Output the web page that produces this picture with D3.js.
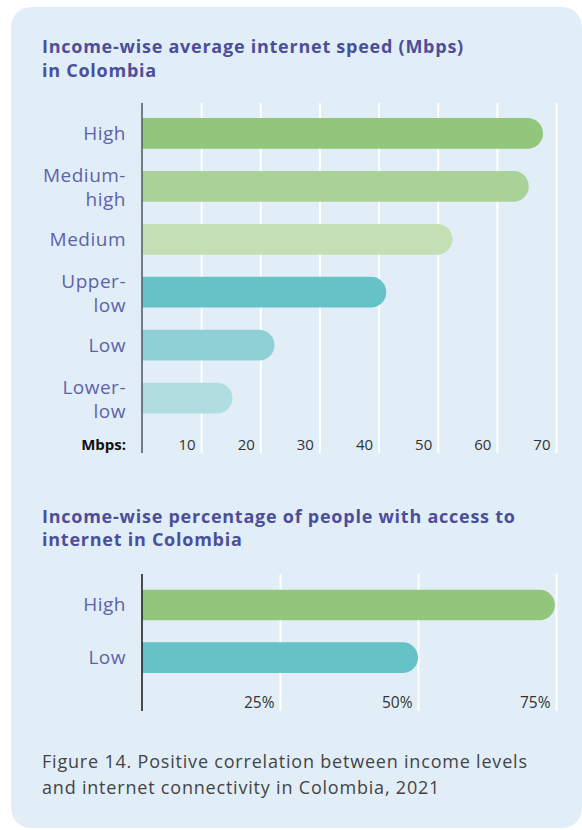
<!DOCTYPE html>
<html>
<head>
<meta charset="utf-8">
<script src="https://cdn.jsdelivr.net/npm/d3@7"></script>
<style>
  html, body { margin: 0; padding: 0; background: #ffffff; }
  svg { display: block; }
</style>
</head>
<body>
<svg id="chart" width="582" height="830"></svg>
<script>
// ---- Data ----
const speedTitle = ["Income-wise average internet speed (Mbps)", "in Colombia"];
const speedCategories = ["High", "Medium-high", "Medium", "Upper-low", "Low", "Lower-low"];
const speedValues = [67.8, 65.4, 52.5, 41.3, 22.4, 15.3];
const speedTicks = [10, 20, 30, 40, 50, 60, 70];
const speedAxisLabel = "Mbps:";

const accessTitle = ["Income-wise percentage of people with access to", "internet in Colombia"];
const accessCategories = ["High", "Low"];
const accessValues = [74.8, 50.0];
const accessTicks = [25, 50, 75];

const caption = ["Figure 14. Positive correlation between income levels",
                 "and internet connectivity in Colombia, 2021"];

const speedColors = ["#92c67b", "#aad298", "#c4dfb4", "#65c2c6", "#8ed0d4", "#b0dde0"];
const accessColors = ["#92c67b", "#65c2c6"];

// ---- Styles ----
const FONT = "'Open Sans', Lato, sans-serif";
const titleColor = "#4d4e99";
const labelColor = "#6062a9";

const svg = d3.select("#chart");

svg.append("rect")
  .attr("x", 11).attr("y", 7)
  .attr("width", 571).attr("height", 821)
  .attr("rx", 20).attr("ry", 20)
  .attr("fill", "#e1eef8");

function title(lines, x, y0, lh) {
  const t = svg.append("text")
    .attr("font-family", FONT)
    .attr("font-weight", 700)
    .attr("font-size", 18)
    .attr("letter-spacing", 0.75)
    .attr("fill", titleColor);
  lines.forEach((l, i) => t.append("tspan").attr("x", x).attr("y", y0 + i * lh).text(l));
}

function barPath(x0, x1, y, h) {
  const r = h / 2;
  const xe = Math.max(x0, x1 - r);
  return `M${x0},${y}H${xe}A${r},${r} 0 0 1 ${xe},${y + h}H${x0}Z`;
}

function drawChart(opts) {
  const { cats, vals, colors, ticks, domainMax, xRange, yRange, gridTop, gridBottom,
          labelBaseline, axisColor, tickFont } = opts;
  const x = d3.scaleLinear().domain([0, domainMax]).range(xRange);
  const y = d3.scaleBand().domain(cats).range(yRange).paddingInner(0.42).paddingOuter(0.21);

  const gAxis = svg.append("g")
    .attr("transform", `translate(0,${gridBottom})`)
    .call(d3.axisBottom(x).tickValues(ticks).tickSize(-(gridBottom - gridTop)).tickFormat(opts.fmt));
  gAxis.select(".domain").remove();
  gAxis.selectAll(".tick line").attr("stroke", "#ffffff").attr("stroke-width", 2);
  gAxis.selectAll(".tick text")
    .attr("x", -6).attr("y", labelBaseline - gridBottom).attr("dy", 0)
    .attr("text-anchor", "end")
    .attr("font-family", FONT)
    .attr("font-size", tickFont)
    .attr("fill", "#333333");

  svg.append("g").selectAll("path")
    .data(cats.map((c, i) => ({ c, v: vals[i], col: colors[i] })))
    .join("path")
    .attr("d", d => barPath(x(0), x(d.v), y(d.c), y.bandwidth()))
    .attr("fill", d => d.col);

  svg.append("line")
    .attr("x1", x(0)).attr("x2", x(0))
    .attr("y1", gridTop).attr("y2", gridBottom)
    .attr("stroke", axisColor).attr("stroke-width", 1.6);

  const gy = svg.append("g")
    .attr("transform", `translate(${x(0)},0)`)
    .call(d3.axisLeft(y).tickSize(0).tickPadding(16));
  gy.select(".domain").remove();
  gy.selectAll(".tick text").each(function (d) {
    const t = d3.select(this);
    t.text(null)
      .attr("font-family", FONT)
      .attr("font-size", 19)
      .attr("letter-spacing", 0.5)
      .attr("fill", labelColor)
      .attr("text-anchor", "end")
      .attr("dy", 0).attr("y", 0);
    const idx = d.indexOf("-");
    if (idx >= 0) {
      t.append("tspan").attr("x", -16).attr("y", -4).text(d.slice(0, idx + 1));
      t.append("tspan").attr("x", -16).attr("y", 20).text(d.slice(idx + 1));
    } else {
      t.append("tspan").attr("x", -16).attr("y", 6.5).text(d);
    }
  });
  return x;
}

// ---- Top chart ----
title(speedTitle, 42, 53, 23.5);
drawChart({
  cats: speedCategories, vals: speedValues, colors: speedColors, ticks: speedTicks,
  domainMax: 70, xRange: [142, 556], yRange: [107, 424.5],
  gridTop: 103, gridBottom: 453, labelBaseline: 450, axisColor: "#5a5f66",
  tickFont: 15, fmt: d3.format("d")
});
svg.append("text")
  .attr("x", 126).attr("y", 450)
  .attr("text-anchor", "end")
  .attr("font-family", FONT).attr("font-weight", 700)
  .attr("font-size", 15).attr("fill", "#111111")
  .text(speedAxisLabel);

// ---- Bottom chart ----
title(accessTitle, 42, 522.5, 23);
drawChart({
  cats: accessCategories, vals: accessValues, colors: accessColors, ticks: accessTicks,
  domainMax: 75, xRange: [142, 556], yRange: [578.6, 684],
  gridTop: 574, gridBottom: 711, labelBaseline: 708, axisColor: "#222222",
  tickFont: 15.5, fmt: d => d + "%"
});

// ---- Caption ----
const cap = svg.append("text")
  .attr("font-family", FONT).attr("font-size", 18).attr("letter-spacing", 0.8).attr("fill", "#444444");
caption.forEach((l, i) => cap.append("tspan").attr("x", 42).attr("y", 768 + i * 25.5).text(l));
</script>
</body>
</html>
